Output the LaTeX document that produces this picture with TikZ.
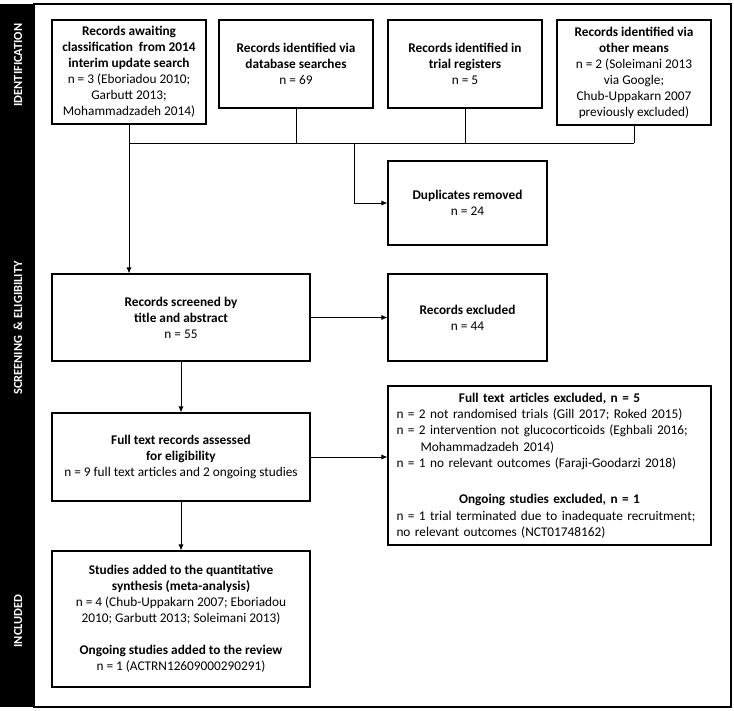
\documentclass[tikz,border=0pt]{standalone}
\usepackage{fontspec}
\setmainfont{Carlito}
\usepackage{tikz}
\usetikzlibrary{positioning,calc,arrows.meta}
\definecolor{stagebg}{HTML}{000000}

\begin{document}
\begin{tikzpicture}[x=1pt, y=-1pt,
    box/.style={draw, line width=1.1pt, align=center, inner sep=3pt,
      font=\fontsize{13.3}{16}\selectfont},
    stage/.style={rotate=90, text=white, font=\fontsize{12.4}{14}\selectfont\bfseries},
    link/.style={line width=0.8pt},
    arrow/.style={link, -{Latex[length=6pt, width=5pt]}}]
  \useasboundingbox (0,0) rectangle (734,710);

  % Stage bar and frame
  \fill[stagebg] (0,4) rectangle (34,707);
  \draw[line width=1.3pt] (34,4) rectangle (731,707);
  \node[stage] (sid) at (18,65) {IDENTIFICATION};
  \node[stage] (sscr) at (18,328) {SCREENING \ \& ELIGIBILITY};
  \node[stage] (sinc) at (18,621) {INCLUDED};

  % Identification
  \node[box, minimum width=154pt, minimum height=104pt] (await) at (129,72)
    {\textbf{Records awaiting}\\ \textbf{classification \ from 2014}\\ \textbf{interim update search}\\
     n = 3 (Eboriadou 2010;\\ Garbutt 2013;\\ Mohammadzadeh 2014)};
  \node[box, minimum width=154pt, minimum height=88pt] (dbase) at (296,64)
    {\textbf{Records identified via}\\ \textbf{database searches}\\ n = 69};
  \node[box, minimum width=154pt, minimum height=88pt] (trial) at (465,64)
    {\textbf{Records identified in}\\ \textbf{trial registers}\\ n = 5};
  \node[box, minimum width=154pt, minimum height=105pt] (other) at (634,72.5)
    {\textbf{Records identified via}\\ \textbf{other means}\\ n = 2 (Soleimani 2013\\ via Google;\\
     Chub-Uppakarn 2007\\ previously excluded)};
  \node[box, minimum width=159pt, minimum height=84pt] (dupl) at (467.5,203)
    {\textbf{Duplicates removed}\\ n = 24};

  \coordinate (busl) at (await.south |- 0,143);
  \coordinate (busr) at (other.south |- 0,143);
  \coordinate (split) at (354,143);
  \draw[link] (busl) -- (busr);
  \draw[link] (dbase.south) -- (dbase.south |- busl);
  \draw[link] (trial.south) -- (trial.south |- busl);
  \draw[link] (other.south) -- (busr);
  \draw[arrow] (split) |- (dupl.west);

  % Screening & eligibility
  \node[box, minimum width=258pt, minimum height=87pt] (screen) at (181,317.5)
    {\textbf{Records screened by}\\ \textbf{title and abstract}\\ n = 55};
  \node[box, minimum width=159pt, minimum height=87pt] (rexcl) at (467.5,317.5)
    {\textbf{Records excluded}\\ n = 44};
  \node[box, minimum width=258pt, minimum height=88pt] (fulltext) at (181,457)
    {\textbf{Full text records assessed}\\ \textbf{for eligibility}\\ n = 9 full text articles and 2 ongoing studies};
  \node[box, minimum width=323pt, minimum height=159pt, inner xsep=8.5pt, text width=306pt,
    align=left, font=\fontsize{13.3}{16.3}\selectfont] (fexcl) at (549.5,465.5)
    {\hfill\textbf{Full text articles excluded, n = 5}\hfill\null\\
     n = 2 not randomised trials (Gill 2017; Roked 2015)\\
     n = 2 intervention not glucocorticoids (Eghbali 2016;\\
     \hspace*{24pt}Mohammadzadeh 2014)\\
     n = 1 no relevant outcomes (Faraji-Goodarzi 2018)\\[20pt]
     \hfill\textbf{Ongoing studies excluded, n = 1}\hfill\null\\
     n = 1 trial terminated due to inadequate recruitment;\\
     no relevant outcomes (NCT01748162)};

  \draw[arrow] (await.south) -- (await.south |- screen.north);
  \draw[arrow] (screen.east) -- (rexcl.west);
  \draw[arrow] (screen.south) -- (fulltext.north);
  \draw[arrow] (fulltext.east) -- (fulltext.east -| fexcl.west);

  % Included
  \node[box, minimum width=258pt, minimum height=136pt] (incl) at (181,619)
    {\textbf{Studies added to the quantitative}\\ \textbf{synthesis (meta-analysis)}\\
     n = 4 (Chub-Uppakarn 2007; Eboriadou\\ 2010; Garbutt 2013; Soleimani 2013)\\[16pt]
     \textbf{Ongoing studies added to the review}\\ n = 1 (ACTRN12609000290291)};
  \draw[arrow] (fulltext.south) -- (incl.north);
\end{tikzpicture}
\end{document}
